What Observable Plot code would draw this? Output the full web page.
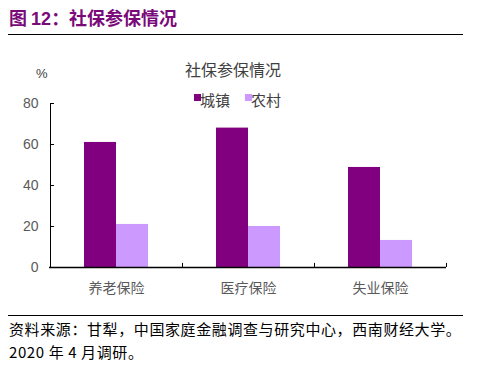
<!DOCTYPE html>
<html><head><meta charset="utf-8">
<script src="https://cdn.jsdelivr.net/npm/d3@7"></script>
<script src="https://cdn.jsdelivr.net/npm/@observablehq/plot@0.6"></script>
<style>
body{margin:0;background:#fff;}
#wrap{position:relative;width:479px;height:369px;overflow:hidden;font-family:Arial,"Liberation Sans","Noto Sans CJK SC",sans-serif;}
.abs{position:absolute;white-space:nowrap;}
#title{left:9px;top:5px;font-size:18px;font-weight:bold;color:#7a0a7a;font-family:"Noto Sans CJK SC",sans-serif;line-height:24px;}
#title .num{font-family:Arial,"Liberation Sans",sans-serif;}
.hr{position:absolute;left:8px;width:455px;height:0;border-top:1.5px solid #000;}
#ctitle{left:185px;top:59px;font-size:16px;color:#404040;font-family:"Noto Sans CJK SC",sans-serif;line-height:20px;}
#pct{left:36px;top:65px;font-size:13px;color:#404040;line-height:18px;}
.leg{top:90px;font-size:15px;color:#404040;font-family:"Noto Sans CJK SC",sans-serif;line-height:20px;}
.sw{position:absolute;width:7px;height:7px;}
#foot{left:9px;top:317px;font-size:15px;color:#000;font-family:"Noto Sans CJK SC",sans-serif;line-height:23px;letter-spacing:0.6px;}
#chart{position:absolute;left:0;top:40px;}
</style></head>
<body><div id="wrap">
<div id="title" class="abs">图 <span class="num">12</span>：社保参保情况</div>
<div class="hr" style="top:34px"></div>
<div id="ctitle" class="abs">社保参保情况</div>
<div id="pct" class="abs">%</div>
<div id="chart"></div>
<div class="hr" style="top:315px"></div>
<div id="foot" class="abs">资料来源：甘犁，中国家庭金融调查与研究中心，西南财经大学。<br>2020 年 4 月调研。</div>
</div>
<script>
const categories = ["养老保险", "医疗保险", "失业保险"];
const seriesNames = ["城镇", "农村"];
const urban = [61, 68, 48.8];
const rural = [21, 20, 13.2];
const yTicks = [0, 20, 40, 60, 80];
const colors = ["#800080", "#CC99FF"];

const wrap = document.getElementById("wrap");
// legend
const legX = [194, 245];
seriesNames.forEach((s, i) => {
  const sw = document.createElement("div");
  sw.className = "sw";
  sw.style.left = legX[i] + "px";
  sw.style.top = "94px";
  sw.style.background = colors[i];
  wrap.appendChild(sw);
  const t = document.createElement("div");
  t.className = "abs leg";
  t.style.left = (legX[i] + 6) + "px";
  t.textContent = s;
  wrap.appendChild(t);
});

const urbanData = categories.map((c, i) => ({c, v: urban[i]}));
const ruralData = categories.map((c, i) => ({c, v: rural[i]}));

const plot = Plot.plot({
  width: 479,
  height: 270,
  marginLeft: 49,
  marginRight: 33,
  marginTop: 63,
  marginBottom: 43,
  style: {fontFamily: 'Arial, "Liberation Sans", "Noto Sans CJK SC", sans-serif', background: "transparent"},
  x: {domain: categories, padding: 0},
  y: {domain: [0, 80]},
  marks: [
    Plot.barY(urbanData, {x: "c", y: "v", fill: colors[0], insetLeft: 34, insetRight: 66}),
    Plot.barY(ruralData, {x: "c", y: "v", fill: colors[1], insetLeft: 66, insetRight: 34}),
    Plot.axisY(yTicks, {tickSize: 0, tickPadding: 11, fontSize: 14, color: "#595959", label: null}),
    Plot.axisX({tickSize: 0, tickPadding: 16, fontSize: 14, color: "#595959", label: null, fontFamily: '"Noto Sans CJK SC", sans-serif'}),
    Plot.tickY(yTicks.filter(d => d > 0), {x: () => categories[0], y: d => d, stroke: "#000", insetRight: 128}),
    Plot.ruleX(categories, {x: d => d, dx: 66, y1: 0, y2: 2, stroke: "#000"}),
    Plot.ruleX([categories[0]], {x: d => d, dx: -66, y1: 0, y2: 80, stroke: "#000"}),
    Plot.ruleY([0], {stroke: "#000", strokeWidth: 1.3})
  ]
});
document.getElementById("chart").appendChild(plot);
</script>
</body></html>
